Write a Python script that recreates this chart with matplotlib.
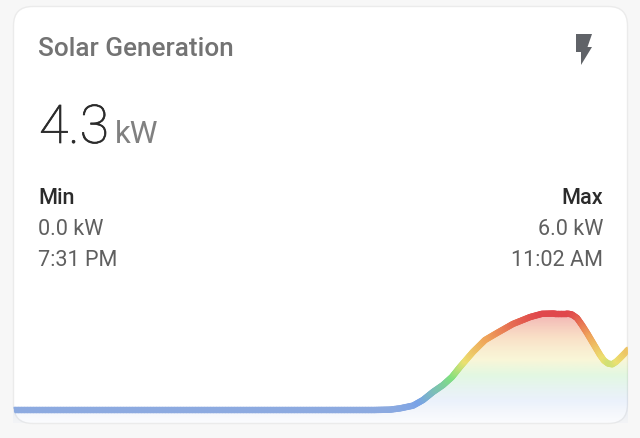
#!/usr/bin/env python3
# Solar generation card: big reading, min/max block and a sparkline with a height gradient

import numpy as np
import matplotlib
matplotlib.use("Agg")
import matplotlib.pyplot as plt
import matplotlib.patheffects as pe
from matplotlib.collections import LineCollection
from matplotlib.colors import LinearSegmentedColormap
from matplotlib.patches import FancyBboxPatch, Polygon

plt.rcParams['font.family'] = ['Roboto', 'DejaVu Sans']

# ── Data ──
hours = [0.0, 14.13, 14.71, 15.10, 15.61, 16.0, 16.39, 16.78, 17.13, 17.44, 17.95,
         18.42, 18.89, 19.51, 20.18, 20.64, 21.15, 21.62, 21.81, 22.01, 22.20, 22.40,
         22.91, 23.06, 23.22, 23.38, 23.53, 23.69, 23.96, 24.0]
power_kw = [0.0, 0.0, 0.02, 0.10, 0.27, 0.62, 1.12, 1.55, 2.05, 2.67, 3.61,
            4.35, 4.79, 5.35, 5.78, 5.98, 6.0, 6.0, 5.94, 5.72, 5.29, 4.79,
            3.42, 3.08, 2.89, 2.84, 2.99, 3.23, 3.67, 3.75]

title = "Solar Generation"
reading = "4.3"
unit = "kW"
min_labels = ["Min", "0.0 kW", "7:31 PM"]
max_labels = ["Max", "6.0 kW", "11:02 AM"]

# colour stops of the line, kW position -> colour
stop_kw = [0.0, 0.5, 2.1, 3.1, 4.5, 6.0]
stop_colors = ["#8caae0", "#78a2e8", "#80e080", "#ece070", "#efa35a", "#e0474c"]

W, H = 640, 438
fig = plt.figure(figsize=(W / 100, H / 100), dpi=100, facecolor="#f7f7f7")

# ── Card, in pixel coordinates ──
card_ax = fig.add_axes([0, 0, 1, 1])
card_ax.set_xlim(0, W)
card_ax.set_ylim(H, 0)
card_ax.axis("off")

card = FancyBboxPatch((13.5, 6.5), 614, 417, boxstyle="round,pad=0,rounding_size=19",
                      facecolor="white", edgecolor="#ebebeb", linewidth=1.0, zorder=1)
card_ax.add_patch(card)

card_ax.text(38, 49, title, fontsize=18.8, fontweight="medium", color="#737373", va="center", zorder=3)
big = card_ax.text(39, 143, reading, fontsize=38.5, fontweight="light", color="#2b2b2b", va="baseline", zorder=3)
big.set_path_effects([pe.withStroke(linewidth=0.5, foreground="#2b2b2b")])
card_ax.text(115, 143, unit, fontsize=22.5, fontweight="normal", color="#808080", va="baseline", zorder=3)

for label, y, col, weight in zip(min_labels, [198.5, 229.5, 261], ["#2b2b2b", "#5f5f5f", "#5f5f5f"],
                                 ["medium", "normal", "normal"]):
    card_ax.text(38.5, y, label, fontsize=15.6, color=col, fontweight=weight, va="center", zorder=3)
for label, y, col, weight in zip(max_labels, [198.5, 229.5, 261], ["#2b2b2b", "#5f5f5f", "#5f5f5f"],
                                 ["medium", "normal", "normal"]):
    card_ax.text(603, y, label, fontsize=15.6, color=col, fontweight=weight, va="center", ha="right", zorder=3)

bolt = [(576, 34), (592, 34), (587.5, 47), (592, 47), (581, 65), (581, 52), (576, 52)]
card_ax.add_patch(Polygon(bolt, closed=True, facecolor="#606368", edgecolor="none", zorder=3))

# ── Sparkline ──
# axes spans card width, pixel rows 300 to 423
ax = fig.add_axes([13 / W, (H - 423) / H, 615 / W, 123 / H])
ax.patch.set_alpha(0)
ax.axis("off")
ax.set_xlim(0, 24)
ax.set_ylim(-0.81, 6.84)

stops = [v / 6.0 for v in stop_kw]
cmap = LinearSegmentedColormap.from_list("solar", list(zip(stops, stop_colors)))

# fill under the line: same colours, fading out downwards
rows = np.linspace(6.84, -0.81, 240)
level = np.clip(rows / 6.0, 0, 1)
alpha = 0.12 + 0.30 * level
alpha[rows < 0.5] = np.interp(rows[rows < 0.5], [-0.81, 0.5], [0.04, 0.15])
rgba = cmap(level)[:, None, :].copy()
rgba[:, 0, 3] = alpha
fill = ax.fill_between(hours, power_kw, -0.81, color="none")
grad = ax.imshow(rgba, extent=[0, 24, -0.81, 6.84], aspect="auto", zorder=2, interpolation="bilinear")
grad.set_clip_path(fill.get_paths()[0], transform=ax.transData)

# line, cut into short pieces only so the colour can follow the height
x_arr = np.array(hours)
y_arr = np.array(power_kw)
segs, seg_vals = [], []
for i in range(len(x_arr) - 1):
    n = max(2, int(np.hypot((x_arr[i + 1] - x_arr[i]) * 25.6, (y_arr[i + 1] - y_arr[i]) * 16) / 1.5))
    t = np.linspace(0, 1, n + 1)
    xs = x_arr[i] + (x_arr[i + 1] - x_arr[i]) * t
    ys = y_arr[i] + (y_arr[i + 1] - y_arr[i]) * t
    for j in range(n):
        segs.append([(xs[j], ys[j]), (xs[j + 1], ys[j + 1])])
        seg_vals.append((ys[j] + ys[j + 1]) / 2)

lc = LineCollection(segs, cmap=cmap, norm=plt.Normalize(0, 6), linewidths=4.6, capstyle="round", zorder=3)
lc.set_array(np.array(seg_vals))
ax.add_collection(lc)

# keep the line inside the card corners
lc.set_clip_path(card)

plt.savefig("out.png", dpi=100, facecolor=fig.get_facecolor())
